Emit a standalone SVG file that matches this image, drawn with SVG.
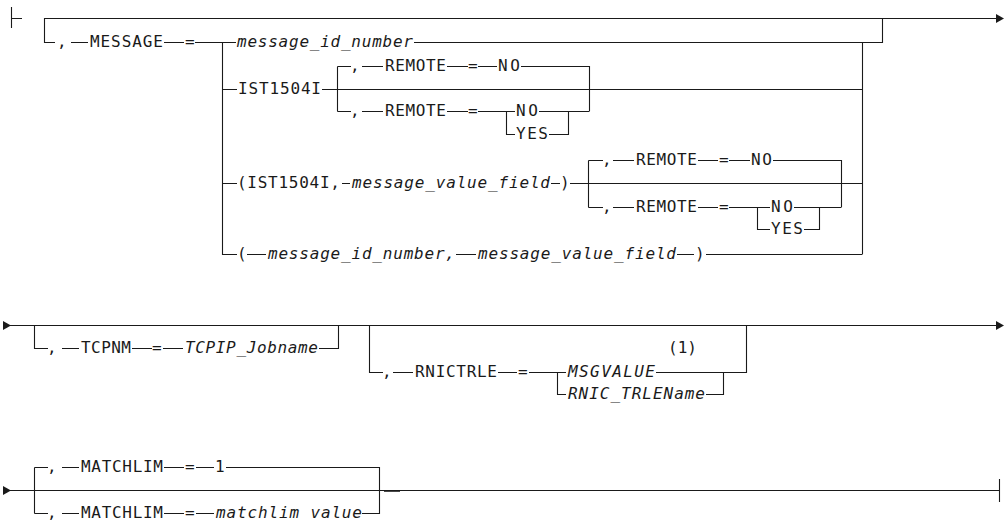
<svg xmlns="http://www.w3.org/2000/svg" xmlns:xlink="http://www.w3.org/1999/xlink" width="1005" height="522" viewBox="0 0 1005 522">
<style>
.ln{fill:none;stroke:#1a1a1a;stroke-width:1.1}
.t{font-family:"DejaVu Sans Mono","Liberation Mono",monospace;font-size:16px;fill:#1a1a1a}
.i{font-family:"DejaVu Sans Mono","Liberation Mono",monospace;font-size:16px;font-style:italic;fill:#1a1a1a}
.ah{fill:#1a1a1a}
</style>
<defs>
<path id="tri" d="M0,-4.5 L8,0 L0,4.5Z"/>
</defs>
<rect width="1005" height="522" fill="#fff"/>
<g id="connectors" class="ln">
<!-- row 1 -->
<path d="M11.5,7 V28 M11,18.5 H22"/>
<path d="M44,18.5 H997"/>
<path d="M44.5,18 V42.5 H55 M71,42.5 H88 M164,42.5 H184 M195,42.5 H236 M414,42.5 H882.5 V18"/>
<path d="M222.5,42 V254.5 H237 M222,89.5 H237 M222,183.5 H237"/>
<path d="M862.5,42 V254.5"/>
<path d="M322,89.5 H862"/>
<path d="M337.5,66.5 V111.5 M337.5,66.5 H351 M362,66.5 H383 M447,66.5 H468 M478,66.5 H497 M521,66.5 H589.5 V111.5"/>
<path d="M337.5,111.5 H351 M362,111.5 H383 M447,111.5 H468 M478,111.5 H515 M539,111.5 H589"/>
<path d="M506.5,111.5 V134.5 H515 M549,134.5 H568.5 V111"/>
<path d="M342,183.5 H350 M551,183.5 H560 M570,183.5 H862"/>
<path d="M588.5,160.5 V207.5 M588.5,160.5 H603 M613,160.5 H634 M698,160.5 H718 M729,160.5 H750 M773,160.5 H841.5 V207.5"/>
<path d="M588.5,207.5 H603 M613,207.5 H634 M698,207.5 H718 M729,207.5 H770 M794,207.5 H841"/>
<path d="M757.5,207.5 V229.5 H770 M804,229.5 H819.5 V207"/>
<path d="M247,254.5 H266 M456,254.5 H476 M677,254.5 H694 M706,254.5 H862"/>
<!-- row 2 -->
<path d="M10,325.5 H997"/>
<path d="M34.5,325 V348.5 H48 M62,348.5 H79 M132,348.5 H152 M163,348.5 H183 M319,348.5 H338.5 V325"/>
<path d="M369.5,325 V372.5 H383 M393,372.5 H413 M498,372.5 H517 M529,372.5 H566 M656,372.5 H746.5 V325"/>
<path d="M557.5,372.5 V394.5 H566 M706,394.5 H723.5 V372"/>
<!-- row 3 -->
<path d="M10,490.5 H999 M999.5,479 V502"/>
<path d="M34.5,467.5 V513.5 M34.5,467.5 H48 M62,467.5 H79 M164,467.5 H184 M196,467.5 H214 M226,467.5 H379.5 V513.5 H362"/>
<path d="M34.5,513.5 H48 M62,513.5 H79 M164,513.5 H184 M196,513.5 H214"/>
<path d="M384,491 H400" stroke-width="1.6"/>
</g>
<g id="arrows" class="ah">
<use xlink:href="#tri" x="996" y="18.5"/>
<use xlink:href="#tri" x="996" y="325.5"/>
<use xlink:href="#tri" x="3" y="325.5"/>
<use xlink:href="#tri" x="3" y="490.5"/>
</g>
<g id="message">
<text class="t" x="57" y="47">,</text>
<text class="t" x="90" y="47" textLength="73" lengthAdjust="spacing">MESSAGE</text>
<text class="t" x="185" y="47">=</text>
</g>
<g id="opt-message-id">
<text class="i" x="237" y="47" textLength="176" lengthAdjust="spacing">message_id_number</text>
</g>
<g id="opt-ist1504i">
<text class="t" x="238" y="94" textLength="83" lengthAdjust="spacing">IST1504I</text>
</g>
<g id="remote-default-1">
<text class="t" x="350" y="71">,</text>
<text class="t" x="385" y="71" textLength="61" lengthAdjust="spacing">REMOTE</text>
<text class="t" x="468" y="71">=</text>
<text class="t" x="498" y="71" textLength="22" lengthAdjust="spacing">NO</text>
</g>
<g id="remote-choice-1">
<text class="t" x="350" y="116">,</text>
<text class="t" x="385" y="116" textLength="61" lengthAdjust="spacing">REMOTE</text>
<text class="t" x="468" y="116">=</text>
<text class="t" x="516" y="116" textLength="22" lengthAdjust="spacing">NO</text>
<text class="t" x="516" y="139" textLength="32" lengthAdjust="spacing">YES</text>
</g>
<g id="opt-ist1504i-value">
<text class="t" x="237" y="188" textLength="103" lengthAdjust="spacing">(IST1504I,</text>
<text class="i" x="352" y="188" textLength="198" lengthAdjust="spacing">message_value_field</text>
<text class="t" x="560" y="188">)</text>
</g>
<g id="remote-default-2">
<text class="t" x="602" y="165">,</text>
<text class="t" x="636" y="165" textLength="61" lengthAdjust="spacing">REMOTE</text>
<text class="t" x="719" y="165">=</text>
<text class="t" x="751" y="165" textLength="21" lengthAdjust="spacing">NO</text>
</g>
<g id="remote-choice-2">
<text class="t" x="602" y="212">,</text>
<text class="t" x="636" y="212" textLength="61" lengthAdjust="spacing">REMOTE</text>
<text class="t" x="719" y="212">=</text>
<text class="t" x="771" y="212" textLength="22" lengthAdjust="spacing">NO</text>
<text class="t" x="771" y="234" textLength="32" lengthAdjust="spacing">YES</text>
</g>
<g id="opt-id-value">
<text class="t" x="237" y="259">(</text>
<text class="i" x="268" y="259" textLength="187" lengthAdjust="spacing">message_id_number,</text>
<text class="i" x="478" y="259" textLength="198" lengthAdjust="spacing">message_value_field</text>
<text class="t" x="695" y="259">)</text>
</g>
<g id="tcpnm">
<text class="t" x="47" y="353">,</text>
<text class="t" x="81" y="353" textLength="50" lengthAdjust="spacing">TCPNM</text>
<text class="t" x="152" y="353">=</text>
<text class="i" x="185" y="353" textLength="133" lengthAdjust="spacing">TCPIP_Jobname</text>
</g>
<g id="rnictrle">
<text class="t" x="382" y="377">,</text>
<text class="t" x="415" y="377" textLength="82" lengthAdjust="spacing">RNICTRLE</text>
<text class="t" x="518" y="377">=</text>
<text class="i" x="568" y="377" textLength="87" lengthAdjust="spacing">MSGVALUE</text>
<text class="t" x="668" y="353" textLength="29" lengthAdjust="spacing">(1)</text>
<text class="i" x="568" y="399" textLength="137" lengthAdjust="spacing">RNIC_TRLEName</text>
</g>
<g id="matchlim-default">
<text class="t" x="47" y="472">,</text>
<text class="t" x="81" y="472" textLength="82" lengthAdjust="spacing">MATCHLIM</text>
<text class="t" x="185" y="472">=</text>
<text class="t" x="215" y="472">1</text>
</g>
<g id="matchlim-value">
<text class="t" x="47" y="518">,</text>
<text class="t" x="81" y="518" textLength="82" lengthAdjust="spacing">MATCHLIM</text>
<text class="t" x="185" y="518">=</text>
<text class="i" x="216" y="518" textLength="146" lengthAdjust="spacing">matchlim value</text>
</g>
</svg>
